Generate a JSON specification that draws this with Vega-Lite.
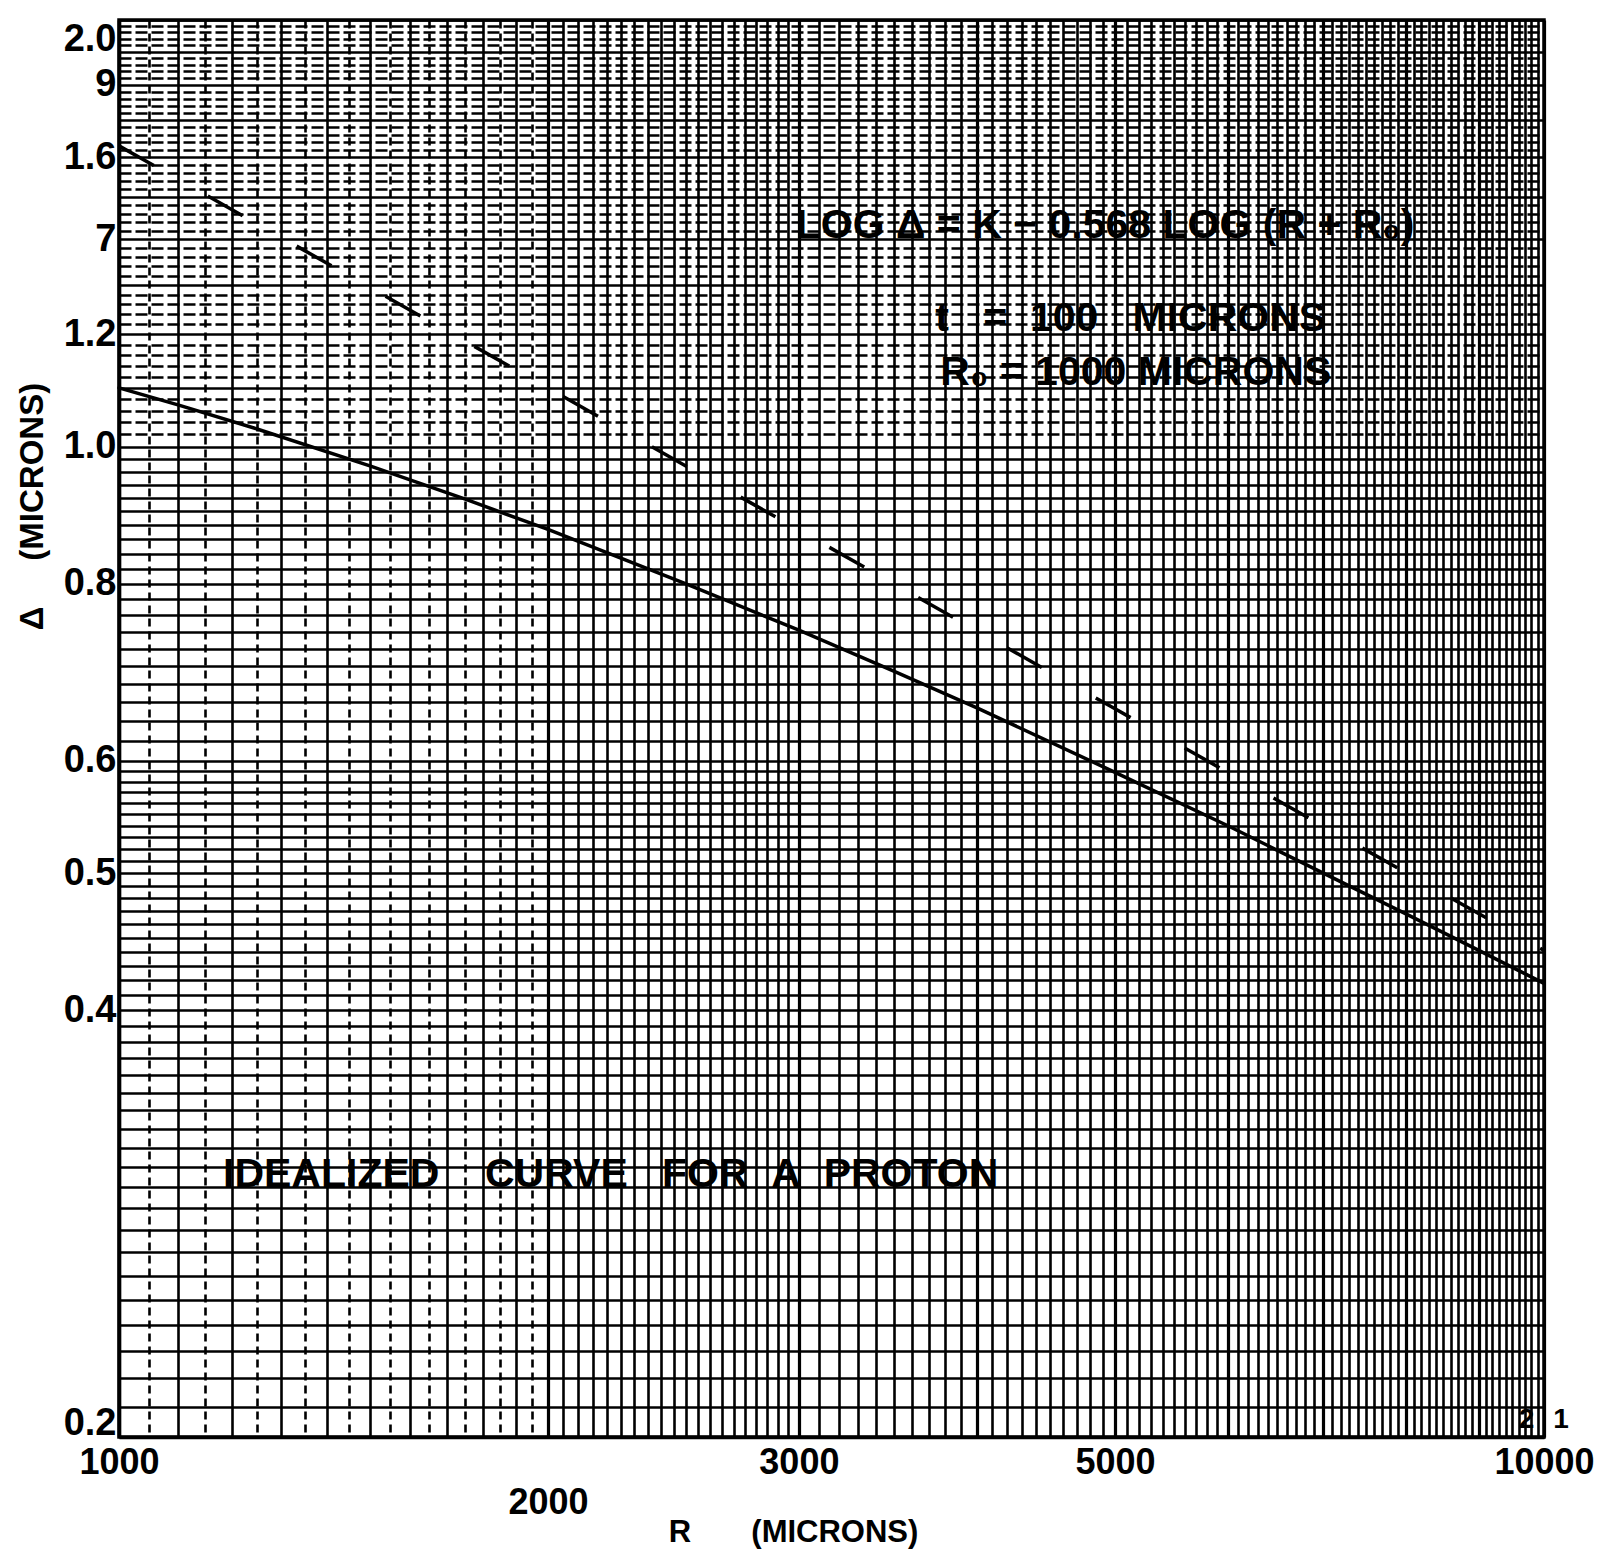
{
  "$schema": "https://vega.github.io/schema/vega-lite/v6.json",
  "width": 1425,
  "height": 1417,
  "autosize": {"type": "none"},
  "padding": {"left": 119, "top": 20, "right": 60, "bottom": 121},
  "background": "white",
  "config": {
    "view": {"stroke": "black", "strokeWidth": 3.5},
    "font": "Liberation Sans"
  },
  "datasets": {
    "curve_fit": [
      {"R": 1000, "D": 1.100}, {"R": 1100, "D": 1.070}, {"R": 1250, "D": 1.029},
      {"R": 1500, "D": 0.969}, {"R": 1750, "D": 0.918}, {"R": 2000, "D": 0.874},
      {"R": 2500, "D": 0.800}, {"R": 3000, "D": 0.742}, {"R": 3500, "D": 0.694},
      {"R": 4000, "D": 0.654}, {"R": 5000, "D": 0.589}, {"R": 6000, "D": 0.540},
      {"R": 7000, "D": 0.500}, {"R": 8000, "D": 0.468}, {"R": 9000, "D": 0.441},
      {"R": 10000, "D": 0.418}
    ],
    "power_law": [
      {"R": 1000, "D": 1.63}, {"R": 2000, "D": 1.10}, {"R": 3000, "D": 0.873},
      {"R": 5000, "D": 0.653}, {"R": 10000, "D": 0.441}
    ],
    "notes": [
      {"R": 2985, "D": 1.43, "label": "LOG Δ = K − 0.568 LOG (R + R₀)"},
      {"R": 3740, "D": 1.23, "label": "t\u00a0\u00a0\u00a0=\u00a0\u00a0100\u00a0\u00a0\u00a0MICRONS"},
      {"R": 3770, "D": 1.127, "label": "R₀ = 1000 MICRONS"},
      {"R": 1183, "D": 0.306, "label": "IDEALIZED\u00a0\u00a0\u00a0\u00a0CURVE\u00a0\u00a0\u00a0FOR\u00a0\u00a0A\u00a0\u00a0PROTON"}
    ],
    "corner": [
      {"R": 9600, "D": 0.2056, "label": "2"},
      {"R": 10150, "D": 0.2056, "label": "1"}
    ]
  },
  "encoding": {
    "x": {
      "field": "R",
      "type": "quantitative",
      "scale": {"type": "log", "domain": [1000, 10000], "nice": false, "zero": false},
      "axis": {
        "values": [1000,1050,1100,1150,1200,1250,1300,1350,1400,1450,1500,1550,1600,1650,1700,1750,1800,1850,1900,1950,2000,2050,2100,2150,2200,2250,2300,2350,2400,2450,2500,2550,2600,2650,2700,2750,2800,2850,2900,2950,3000,3100,3200,3300,3400,3500,3600,3700,3800,3900,4000,4100,4200,4300,4400,4500,4600,4700,4800,4900,5000,5100,5200,5300,5400,5500,5600,5700,5800,5900,6000,6100,6200,6300,6400,6500,6600,6700,6800,6900,7000,7100,7200,7300,7400,7500,7600,7700,7800,7900,8000,8100,8200,8300,8400,8500,8600,8700,8800,8900,9000,9100,9200,9300,9400,9500,9600,9700,9800,9900,10000],
        "labelExpr": "datum.value == 1000 || datum.value == 2000 || datum.value == 3000 || datum.value == 5000 || datum.value == 10000 ? format(datum.value, 'd') : ''",
        "labelPadding": {"condition": {"test": "datum.value == 2000", "value": 48}, "value": 8},
        "labelFont": "Liberation Sans",
        "labelFontWeight": "bold",
        "labelFontSize": 36,
        "labelColor": "black",
        "labelFlush": false,
        "labelOverlap": false,
        "labelBound": false,
        "labelAngle": 0,
        "ticks": false,
        "domainColor": "black",
        "domainWidth": 3.5,
        "grid": true,
        "gridColor": "black",
        "gridOpacity": 1,
        "gridWidth": {"condition": {"test": "datum.value % 1000 == 0", "value": 3.2}, "value": 2.6},
        "gridDash": {"condition": {"test": "datum.value < 2000 && datum.value % 100 != 0", "value": [8, 5]}, "value": []},
        "title": "R\u00a0\u00a0\u00a0\u00a0\u00a0\u00a0\u00a0(MICRONS)",
        "titleFont": "Liberation Sans",
        "titleFontWeight": "bold",
        "titleFontSize": 31,
        "titleColor": "black",
        "titleX": 674,
        "titleY": 95,
        "titleAlign": "center",
        "titleBaseline": "middle"
      }
    },
    "y": {
      "field": "D",
      "type": "quantitative",
      "scale": {"type": "log", "domain": [0.2, 2.0], "nice": false, "zero": false},
      "axis": {
        "values": [0.2,0.21,0.22,0.23,0.24,0.25,0.26,0.27,0.28,0.29,0.3,0.31,0.32,0.33,0.34,0.35,0.36,0.37,0.38,0.39,0.4,0.41,0.42,0.43,0.44,0.45,0.46,0.47,0.48,0.49,0.5,0.51,0.52,0.53,0.54,0.55,0.56,0.57,0.58,0.59,0.6,0.62,0.64,0.66,0.68,0.7,0.72,0.74,0.76,0.78,0.8,0.82,0.84,0.86,0.88,0.9,0.92,0.94,0.96,0.98,1.0,1.02,1.04,1.06,1.08,1.1,1.12,1.14,1.16,1.18,1.2,1.22,1.24,1.26,1.28,1.3,1.32,1.34,1.36,1.38,1.4,1.42,1.44,1.46,1.48,1.5,1.52,1.54,1.56,1.58,1.6,1.62,1.64,1.66,1.68,1.7,1.72,1.74,1.76,1.78,1.8,1.82,1.84,1.86,1.88,1.9,1.92,1.94,1.96,1.98,2.0],
        "labelExpr": "datum.value == 2 ? '2.0' : datum.value == 1.8 ? '9' : datum.value == 1.6 ? '1.6' : datum.value == 1.4 ? '7' : datum.value == 1.2 ? '1.2' : datum.value == 1 ? '1.0' : datum.value == 0.8 ? '0.8' : datum.value == 0.6 ? '0.6' : datum.value == 0.5 ? '0.5' : datum.value == 0.4 ? '0.4' : datum.value == 0.2 ? '0.2' : ''",
        "labelPadding": 3,
        "labelBaseline": {"condition": {"test": "datum.value == 2", "value": "top"}, "value": "middle"},
        "labelOffset": {"condition": {"test": "datum.value == 0.2", "value": -14}, "value": 0},
        "labelFont": "Liberation Sans",
        "labelFontWeight": "bold",
        "labelFontSize": 38,
        "labelColor": "black",
        "labelFlush": false,
        "labelOverlap": false,
        "labelBound": false,
        "ticks": false,
        "domainColor": "black",
        "domainWidth": 3.5,
        "grid": true,
        "gridColor": "black",
        "gridOpacity": 1,
        "gridWidth": 2.6,
        "gridDash": {"condition": {"test": "datum.value > 1.001 && abs(round(datum.value * 10) - datum.value * 10) > 0.01", "value": [12, 4]}, "value": []},
        "title": "Δ\u00a0\u00a0\u00a0\u00a0\u00a0(MICRONS)",
        "titleFont": "Liberation Sans",
        "titleFontWeight": "bold",
        "titleFontSize": 33,
        "titleColor": "black",
        "titleAngle": -90,
        "titleX": -87,
        "titleY": 486,
        "titleAlign": "center",
        "titleBaseline": "middle"
      }
    }
  },
  "layer": [
    {
      "data": {"name": "curve_fit"},
      "mark": {"type": "line", "color": "black", "strokeWidth": 3.5, "strokeCap": "round"}
    },
    {
      "data": {"name": "power_law"},
      "mark": {"type": "line", "color": "black", "strokeWidth": 3.5, "strokeDash": [40, 62]}
    },
    {
      "data": {"name": "notes"},
      "mark": {"type": "text", "align": "left", "baseline": "middle", "font": "Liberation Sans", "fontWeight": "bold", "fontSize": 41, "color": "black"},
      "encoding": {"text": {"field": "label"}}
    },
    {
      "data": {"name": "corner"},
      "mark": {"type": "text", "align": "left", "baseline": "middle", "font": "Liberation Sans", "fontWeight": "bold", "fontSize": 28, "color": "black"},
      "encoding": {"text": {"field": "label"}}
    }
  ]
}
